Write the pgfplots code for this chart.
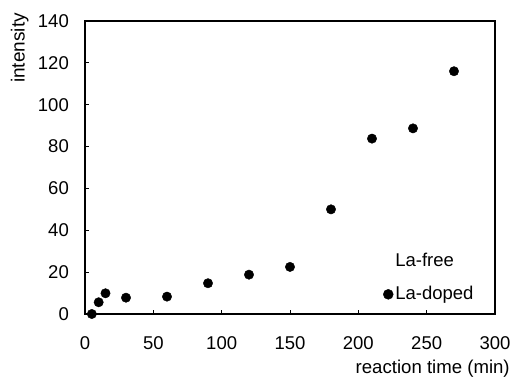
\documentclass[border=0pt]{standalone}
\usepackage{pgfplots}
\pgfplotsset{compat=1.18}
\usepackage{fontspec}
\setmainfont{Liberation Sans}
\begin{document}
\fontsize{18}{21}\selectfont
\begin{tikzpicture}
\begin{axis}[
  scale only axis,
  width=410pt, height=293pt,
  xmin=0, xmax=300, ymin=0, ymax=140,
  xtick={0,50,...,300}, ytick={0,20,...,140},
  tick align=inside, tick pos=left,
  major tick length=4pt,
  axis line style={line width=1.2pt},
  every tick/.style={black, line width=0.8pt},
  /pgf/number format/assume math mode=true,
  tick label style={font=\fontsize{18.5}{21}\selectfont},
  xticklabel style={yshift=-16pt},
  yticklabel style={xshift=-10pt},
  clip=false,
  legend style={draw=none, fill=none, at={(rel axis cs:0.727,0.215)}, anchor=north west,
    font=\fontsize{18.5}{21}\selectfont, row sep=13pt, inner sep=0pt},
  legend cell align=left,
  legend image code/.code={\draw[#1, mark size=5pt] plot coordinates {(-5pt,0pt)};},
]
\addlegendimage{draw=none, mark=none}
\addlegendentry{La-free}
\addplot[only marks, mark=*, mark size=4.7pt, black] coordinates {
(5,0) (10,5.6) (15,9.9) (30,7.8) (60,8.3) (90,14.7) (120,18.8) (150,22.5)
(180,50) (210,83.8) (240,88.7) (270,116)
};
\addlegendentry{La-doped}
\node[rotate=90, font=\fontsize{19}{21}\selectfont] at (rel axis cs:-0.159,0.908) {intensity};
\node[anchor=east, font=\fontsize{18.6}{22}\selectfont] at (rel axis cs:1.051,-0.186) {reaction time (min)};
\end{axis}
\pgfresetboundingbox
\path[use as bounding box] (-85pt,-71pt) rectangle (430pt,314pt);
\end{tikzpicture}
\end{document}
